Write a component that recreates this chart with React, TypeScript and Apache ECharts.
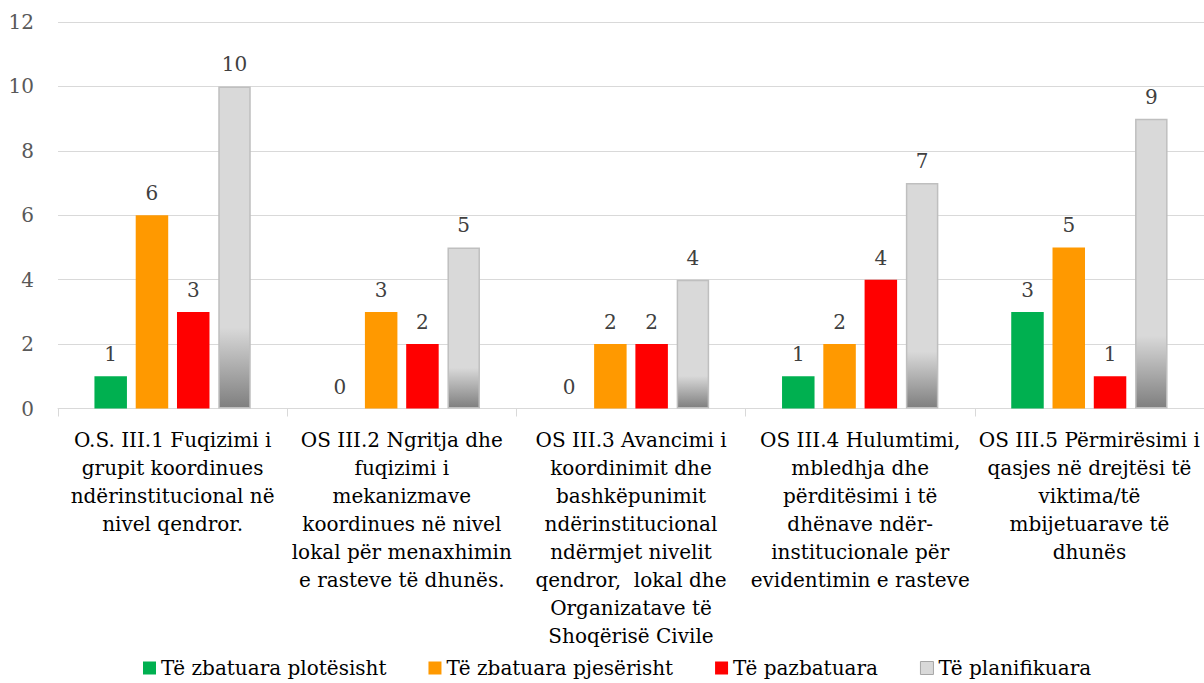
import React, { useEffect, useRef } from "react";
import * as echarts from "echarts";

const categories = [
  "O.S. III.1 Fuqizimi i\ngrupit koordinues\nndërinstitucional në\nnivel qendror.",
  "OS III.2 Ngritja dhe\nfuqizimi i\nmekanizmave\nkoordinues në nivel\nlokal për menaxhimin\ne rasteve të dhunës.",
  "OS III.3 Avancimi i\nkoordinimit dhe\nbashkëpunimit\nndërinstitucional\nndërmjet nivelit\nqendror,  lokal dhe\nOrganizatave të\nShoqërisë Civile",
  "OS III.4 Hulumtimi,\nmbledhja dhe\npërditësimi i të\ndhënave ndër-\ninstitucionale për\nevidentimin e rasteve",
  "OS III.5 Përmirësimi i\nqasjes në drejtësi të\nviktima/të\nmbijetuarave të\ndhunës",
];

const seriesNames = [
  "Të zbatuara plotësisht",
  "Të zbatuara pjesërisht",
  "Të pazbatuara",
  "Të planifikuara",
];

const fullyImplemented = [1, 0, 0, 1, 3];
const partiallyImplemented = [6, 3, 2, 2, 5];
const notImplemented = [3, 2, 2, 4, 1];
const planned = [10, 5, 4, 7, 9];

const FONT = "DejaVu Serif";

export default function App() {
  const ref = useRef<HTMLDivElement>(null);

  useEffect(() => {
    if (!ref.current) return;
    const chart = echarts.init(ref.current, undefined, { renderer: "svg" });

    const label = {
      show: true,
      position: "top" as const,
      distance: 12,
      color: "#404040",
      fontFamily: FONT,
      fontSize: 20,
    };

    const grayGradient = new echarts.graphic.LinearGradient(0, 0, 0, 1, [
      { offset: 0, color: "#d9d9d9" },
      { offset: 0.75, color: "#d9d9d9" },
      { offset: 1, color: "#7f7f7f" },
    ]);

    chart.setOption({
      animation: false,
      backgroundColor: "#ffffff",
      grid: {
        left: 58,
        top: 22,
        width: 1147,
        height: 386.5,
        containLabel: false,
      },
      legend: {
        left: 138,
        top: 653,
        itemWidth: 13,
        itemHeight: 13,
        itemGap: 42,
        icon: "rect",
        textStyle: { color: "#000000", fontFamily: FONT, fontSize: 20 },
        data: [
          { name: seriesNames[0] },
          { name: seriesNames[1] },
          { name: seriesNames[2] },
          {
            name: seriesNames[3],
            itemStyle: { color: "#d9d9d9", borderColor: "#a6a6a6", borderWidth: 1 },
          },
        ],
      },
      xAxis: {
        type: "category",
        data: categories,
        axisLine: { show: true, lineStyle: { color: "#d9d9d9", width: 1 } },
        axisTick: { show: true, length: 8, lineStyle: { color: "#d9d9d9" } },
        axisLabel: {
          interval: 0,
          margin: 17,
          color: "#000000",
          fontFamily: FONT,
          fontSize: 20,
          lineHeight: 28,
          align: "center",
        },
      },
      yAxis: {
        type: "value",
        min: 0,
        max: 12,
        interval: 2,
        axisLine: { show: false },
        axisTick: { show: false },
        axisLabel: {
          margin: 24,
          color: "#595959",
          fontFamily: FONT,
          fontSize: 20,
        },
        splitLine: { lineStyle: { color: "#d9d9d9", width: 1 } },
      },
      series: [
        {
          name: seriesNames[0],
          type: "bar",
          data: fullyImplemented,
          barWidth: 32.5,
          barGap: "27%",
          itemStyle: { color: "#00b050" },
          label,
        },
        {
          name: seriesNames[1],
          type: "bar",
          data: partiallyImplemented,
          barWidth: 32.5,
          barGap: "27%",
          itemStyle: { color: "#ff9900" },
          label,
        },
        {
          name: seriesNames[2],
          type: "bar",
          data: notImplemented,
          barWidth: 32.5,
          barGap: "27%",
          itemStyle: { color: "#ff0000" },
          label,
        },
        {
          name: seriesNames[3],
          type: "bar",
          data: planned,
          barWidth: 32.5,
          barGap: "27%",
          itemStyle: { color: grayGradient, borderColor: "#bfbfbf", borderWidth: 1.5 },
          label,
        },
      ],
    });

    return () => chart.dispose();
  }, []);

  return (
    <div
      ref={ref}
      style={{ position: "absolute", left: 0, top: 0, width: 1204, height: 683 }}
    />
  );
}
